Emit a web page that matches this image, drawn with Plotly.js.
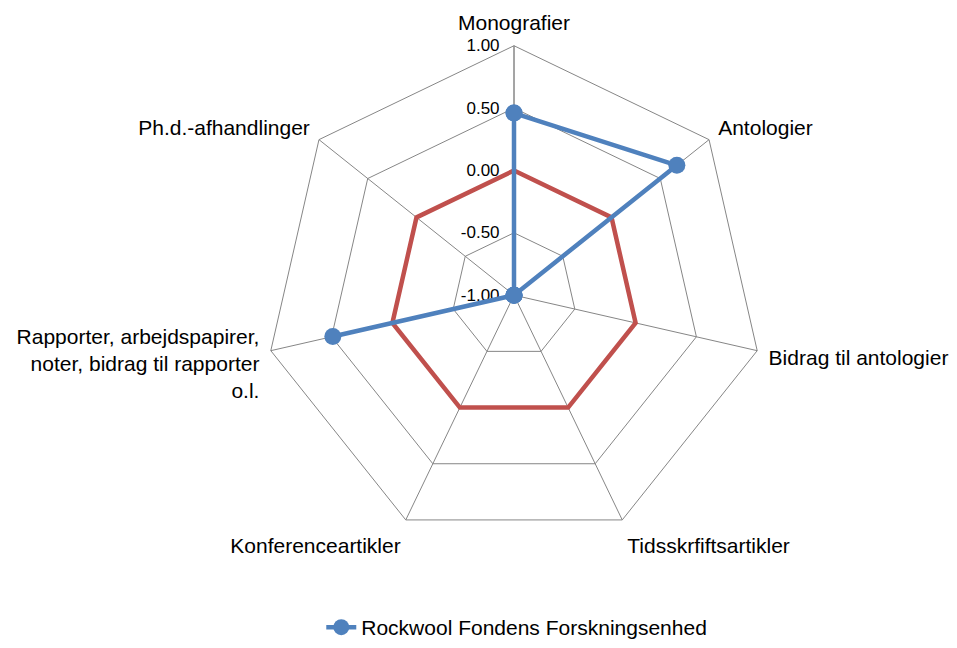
<!DOCTYPE html>
<html>
<head>
<meta charset="utf-8">
<script src="https://cdn.plot.ly/plotly-3.0.1.min.js"></script>
<style>body{margin:0;background:#fff}</style>
</head>
<body>
<div id="radarChart" style="width:957px;height:648px"></div>
<script>
categories = ['Monografier', 'Antologier', 'Bidrag til antologier', 'Tidsskrfiftsartikler',
  'Konferenceartikler', 'Rapporter, arbejdspapirer,<br>noter, bidrag til rapporter<br>o.l.', 'Ph.d.-afhandlinger']
rockwool = [0.46, 0.67, -1, -1, -1, 0.49, -1]
baseline = [0, 0, 0, 0, 0, 0, 0]
radialTicks = [-1, -0.5, 0, 0.5, 1]
seriesName = 'Rockwool Fondens Forskningsenhed'

// close the polygons
var theta = categories.concat([categories[0]])

// red reference polygon sits on the heptagon grid
var trace1 = {
  type: 'scatterpolar',
  subplot: 'polar',
  r: baseline.concat([baseline[0]]),
  theta: theta,
  mode: 'lines',
  line: {color: '#C0504D', width: 4.5},
  showlegend: false,
  hoverinfo: 'skip'
}

// markers vanish on a linear grid with a negative range, so the blue series
// goes on an invisible circular polar laid over the same spot
var trace2 = {
  type: 'scatterpolar',
  subplot: 'polar2',
  r: rockwool.concat([rockwool[0]]),
  theta: theta,
  mode: 'lines+markers',
  name: seriesName,
  line: {color: '#4F81BD', width: 4.5},
  marker: {color: '#4F81BD', size: 17}
}

var dom = {x: [0.2748, 0.7994], y: [0.1543, 0.929]}

var layout = {
  width: 957,
  height: 648,
  margin: {l: 0, r: 0, t: 0, b: 0},
  paper_bgcolor: '#fff',
  font: {family: 'Liberation Sans, Arial, sans-serif', size: 21, color: '#000'},
  showlegend: true,
  legend: {
    orientation: 'h',
    x: 0.54, xanchor: 'center',
    y: 0.025, yanchor: 'middle',
    font: {size: 21}
  },
  polar: {
    domain: dom,
    gridshape: 'linear',
    bgcolor: '#fff',
    radialaxis: {
      range: [-1, 1],
      tickvals: radialTicks,
      ticktext: radialTicks.map(function (v) { return v.toFixed(2) }),
      angle: 90,
      tickangle: 90,
      side: 'counterclockwise',
      showline: true,
      linecolor: '#868686',
      linewidth: 1,
      gridcolor: '#868686',
      gridwidth: 1,
      ticks: 'outside',
      ticklen: 8,
      tickcolor: 'rgba(0,0,0,0)',
      tickfont: {size: 17}
    },
    angularaxis: {
      direction: 'clockwise',
      rotation: 90,
      categoryorder: 'array',
      categoryarray: categories,
      showline: true,
      linecolor: '#868686',
      linewidth: 1,
      gridcolor: '#868686',
      ticks: 'outside',
      ticklen: 7,
      tickcolor: 'rgba(0,0,0,0)',
      tickfont: {size: 21}
    }
  },
  polar2: {
    domain: dom,
    gridshape: 'circular',
    bgcolor: 'rgba(0,0,0,0)',
    radialaxis: {range: [-1, 1], visible: false},
    angularaxis: {
      direction: 'clockwise',
      rotation: 90,
      categoryorder: 'array',
      categoryarray: categories,
      visible: false
    }
  }
}

Plotly.newPlot('radarChart', [trace1, trace2], layout, {displayModeBar: false})
</script>
</body>
</html>
